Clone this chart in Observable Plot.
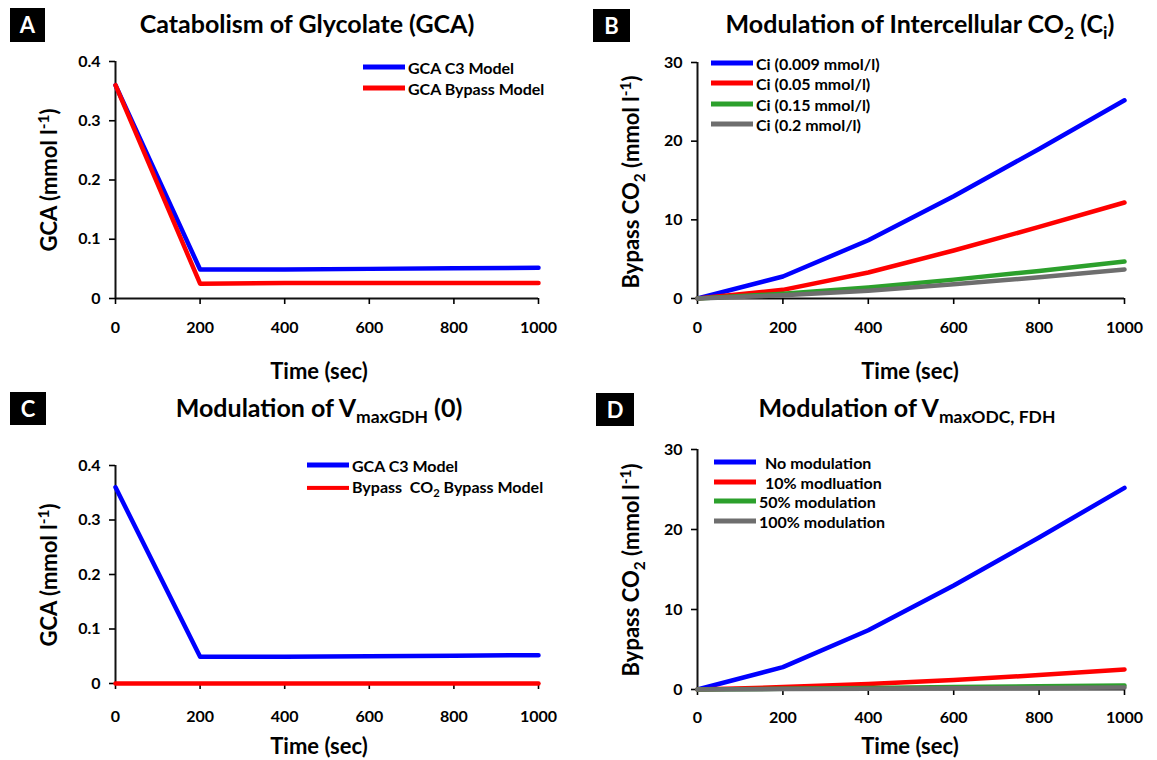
<!DOCTYPE html>
<html>
<head>
<meta charset="utf-8">
<script src="https://cdn.jsdelivr.net/npm/d3@7"></script>
<script src="https://cdn.jsdelivr.net/npm/@observablehq/plot@0.6"></script>
<style>
  html, body { margin: 0; padding: 0; background: #fff; }
  #root { position: relative; width: 1157px; height: 760px; font-family: Lato, "Open Sans", sans-serif; font-weight: bold; color: #000; overflow: hidden; }
  .abs { position: absolute; white-space: nowrap; }
  .title { font-size: 25px; transform: translateX(-50%); }
  .box { background: #000; color: #fff; font-size: 22px; text-align: center; line-height: 33px; }
  .xlab { font-size: 22px; transform: translate(-50%, -50%); }
  .ylab { font-size: 22px; transform: translate(-50%, -50%) rotate(-90deg); }
  .leg { font-size: 16px; display: flex; align-items: center; transform: translateY(-50%); }
  .leg .sw { display: inline-block; width: 42px; height: 4.5px; margin-right: 3px; }
  sub, sup { font-size: 0.7em; }
</style>
</head>
<body>
<div id="root"></div>
<script>
// ---- data ----
const time = [0, 200, 400, 600, 800, 1000];

// Panel A
const seriesA = ["GCA C3 Model", "GCA Bypass Model"];
const gcaC3 = [0.36, 0.049, 0.049, 0.050, 0.051, 0.052];
const gcaBypass = [0.36, 0.025, 0.026, 0.026, 0.026, 0.026];

// Panel B
const seriesB = ["Ci (0.009 mmol/l)", "Ci (0.05 mmol/l)", "Ci (0.15 mmol/l)", "Ci (0.2 mmol/l)"];
const ci009 = [0, 2.8, 7.4, 13.0, 19.0, 25.2];
const ci05 = [0, 1.1, 3.3, 6.1, 9.1, 12.2];
const ci15 = [0, 0.6, 1.4, 2.4, 3.5, 4.7];
const ci2 = [0, 0.4, 1.0, 1.8, 2.7, 3.7];

// Panel C
const seriesC = ["GCA C3 Model", "Bypass CO2 Bypass Model"];
const gdhC3 = [0.36, 0.049, 0.049, 0.050, 0.051, 0.052];
const gdhBypassCO2 = [0, 0, 0, 0, 0, 0];

// Panel D
const seriesD = ["No modulation", "10% modluation", "50% modulation", "100% modulation"];
const modNone = [0, 2.8, 7.4, 13.0, 19.0, 25.2];
const mod10 = [0, 0.3, 0.7, 1.2, 1.8, 2.5];
const mod50 = [0, 0.1, 0.2, 0.3, 0.4, 0.5];
const mod100 = [0, 0.05, 0.1, 0.15, 0.2, 0.25];

const ticksGCA = [0, 0.1, 0.2, 0.3, 0.4];
const ticksCO2 = [0, 10, 20, 30];

const colors2 = ["#0000ff", "#ff0000"];
const colors4 = ["#0000ff", "#ff0000", "#2ca02c", "#6e6e6e"];

function table(names, arrays) {
  const out = [];
  names.forEach((n, i) => arrays[i].forEach((v, j) => out.push({ s: n, t: time[j], v })));
  return out;
}

const root = document.getElementById("root");
function el(html, cls, style) {
  const d = document.createElement("div");
  d.className = "abs " + cls;
  d.innerHTML = html;
  Object.assign(d.style, style);
  root.appendChild(d);
  return d;
}

function panel(cfg) {
  const data = table(cfg.names, cfg.arrays);
  const chart = Plot.plot({
    width: cfg.width, height: 380,
    marginLeft: cfg.ml, marginRight: cfg.mr, marginTop: cfg.mt, marginBottom: cfg.mb,
    style: { fontFamily: "Lato, 'Open Sans', sans-serif", fontSize: "16px", fontWeight: "bold", color: "#000", background: "transparent" },
    x: { domain: [0, 1000] },
    y: { domain: cfg.ydomain },
    color: { domain: cfg.names, range: cfg.colors },
    marks: [
      Plot.ruleY([0], { stroke: "#111", strokeWidth: 2 }),
      Plot.ruleX([0], { stroke: "#111", strokeWidth: 2 }),
      Plot.axisX({ ticks: time, tickSize: 6, tickPadding: cfg.xpad, label: null, strokeWidth: 1.6, tickFormat: d => String(d) }),
      Plot.axisY({ ticks: cfg.yticks, tickSize: 6, tickPadding: 9, label: null, strokeWidth: 1.6, tickFormat: d => String(d) }),
      Plot.line(data, { x: "t", y: "v", z: "s", stroke: "s", strokeWidth: 4.5, strokeLinejoin: "round" })
    ]
  });
  chart.style.position = "absolute";
  chart.style.left = cfg.left + "px";
  chart.style.top = cfg.top + "px";
  chart.style.maxWidth = "none";
  root.appendChild(chart);
}

// Panel A
panel({ names: seriesA, arrays: [gcaC3, gcaBypass], colors: colors2, width: 578, left: 0, top: 0,
  ml: 115, mr: 40, mt: 61, mb: 82, ydomain: [0, 0.4], yticks: ticksGCA, xpad: 17 });
// Panel B
panel({ names: seriesB, arrays: [ci009, ci05, ci15, ci2], colors: colors4, width: 577, left: 580, top: 0,
  ml: 117, mr: 33, mt: 62, mb: 82, ydomain: [0, 30], yticks: ticksCO2, xpad: 17 });
// Panel C
panel({ names: seriesC, arrays: [gdhC3, gdhBypassCO2], colors: colors2, width: 578, left: 0, top: 380,
  ml: 115, mr: 40, mt: 85, mb: 77, ydomain: [0, 0.4], yticks: ticksGCA, xpad: 21 });
// Panel D
panel({ names: seriesD, arrays: [modNone, mod10, mod50, mod100], colors: colors4, width: 577, left: 580, top: 380,
  ml: 117, mr: 33, mt: 69, mb: 71, ydomain: [0, 30], yticks: ticksCO2, xpad: 16 });

// Letter boxes
el("A", "box", { left: "10px", top: "8px", width: "35px", height: "34px" });
el("B", "box", { left: "593px", top: "9px", width: "37px", height: "33px" });
el("C", "box", { left: "10px", top: "392px", width: "36px", height: "33px" });
el("D", "box", { left: "596px", top: "393px", width: "38px", height: "33px" });

// Titles
el("Catabolism of Glycolate (GCA)", "title", { left: "307px", top: "8px" });
el("Modulation of Intercellular CO<sub>2</sub> (C<sub>i</sub>)", "title", { left: "920px", top: "8px" });
el("Modulation of V<sub>maxGDH</sub> (0)", "title", { left: "319px", top: "392px" });
el("Modulation of V<sub>maxODC, FDH</sub>", "title", { left: "907px", top: "392px" });

// Axis titles
el("Time (sec)", "xlab", { left: "319px", top: "370px" });
el("Time (sec)", "xlab", { left: "910px", top: "370px" });
el("Time (sec)", "xlab", { left: "319px", top: "745px" });
el("Time (sec)", "xlab", { left: "910px", top: "745px" });
el("GCA (mmol l<sup>-1</sup>)", "ylab", { left: "48px", top: "180px" });
el("Bypass CO<sub>2</sub> (mmol l<sup>-1</sup>)", "ylab", { left: "632px", top: "182px" });
el("GCA (mmol l<sup>-1</sup>)", "ylab", { left: "48px", top: "575px" });
el("Bypass CO<sub>2</sub> (mmol l<sup>-1</sup>)", "ylab", { left: "632px", top: "570px" });

// Legends
function legend(names, cols, x, ys, labels, gap) {
  names.forEach((n, i) => {
    el(`<span class="sw" style="background:${cols[i]};margin-right:${gap[i]}px"></span><span>${labels[i]}</span>`, "leg",
      { left: x + "px", top: ys[i] + "px" });
  });
}
legend(seriesA, colors2, 363, [67, 88], seriesA, [3, 3]);
legend(seriesB, colors4, 711, [63, 83, 104, 124], seriesB, [3, 3, 3, 3]);
legend(seriesC, colors2, 307, [465, 488], ["GCA C3 Model", "Bypass&nbsp; CO<sub>2</sub> Bypass Model"], [3, 3]);
legend(seriesD, colors4, 714, [462, 482, 501, 521], seriesD, [9, 9, 3, 3]);
</script>
</body>
</html>
